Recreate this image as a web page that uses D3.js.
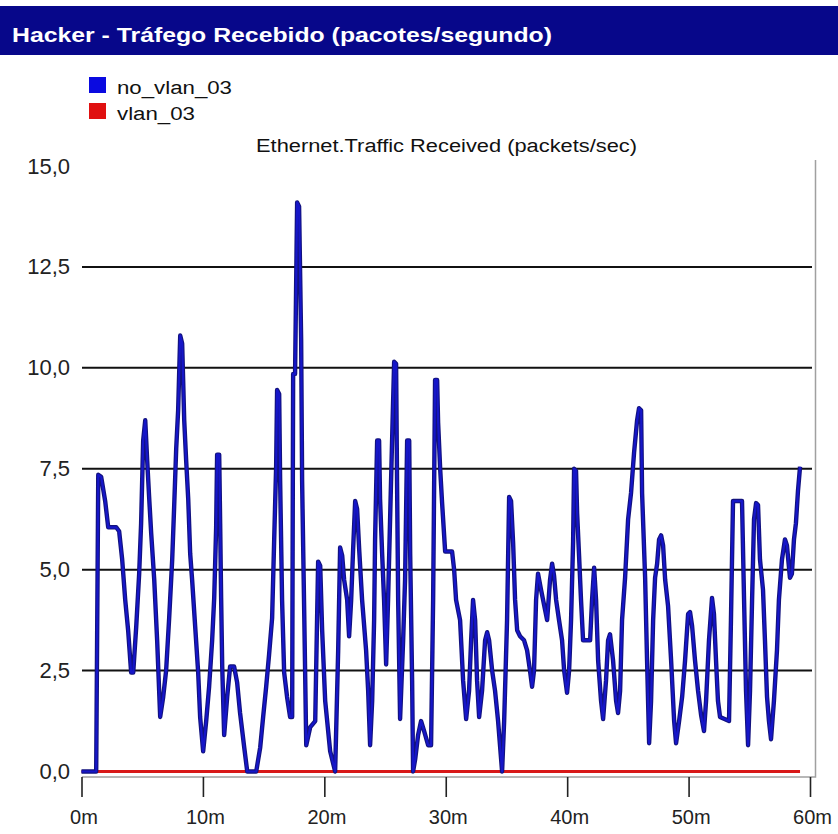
<!DOCTYPE html>
<html>
<head>
<meta charset="utf-8">
<script src="https://cdn.jsdelivr.net/npm/d3@7"></script>
<style>
  html, body { margin: 0; padding: 0; background: #ffffff; }
  svg { display: block; }
</style>
</head>
<body>
<svg id="chart" width="838" height="834"></svg>
<script>
// Window caption and statistic name
const windowTitle = "Hacker - Tráfego Recebido (pacotes/segundo)";
const chartTitle = "Ethernet.Traffic Received (packets/sec)";

// Legend entries
const seriesNames = ["no_vlan_03", "vlan_03"];
const seriesColors = ["#1616c8", "#d81818"];

// Axis ticks
const yTicks = [0, 2.5, 5, 7.5, 10, 12.5, 15];
const gridValues = [2.5, 5, 7.5, 10, 12.5];
const xTicks = [0, 10, 20, 30, 40, 50, 60];

// no_vlan_03: sample times (minutes) and received packets/sec
const minutes = [
  0, 1.21, 1.38, 1.62, 1.95, 2.20, 2.86, 3.10, 3.35, 3.60,
  3.84, 4.09, 4.26, 4.51, 4.75, 4.91, 5.08, 5.25, 5.41, 5.57,
  5.74, 5.99, 6.23, 6.48, 6.73, 6.97, 7.22, 7.47, 7.63, 7.80,
  7.96, 8.13, 8.29, 8.46, 8.62, 8.79, 8.95, 9.11, 9.36, 9.61,
  9.77, 10.02, 10.27, 10.51, 10.76, 10.93, 11.09, 11.17, 11.34, 11.42,
  11.50, 11.59, 11.75, 12.00, 12.24, 12.57, 12.82, 13.06, 13.40, 13.65,
  14.39, 14.72, 14.96, 15.21, 15.45, 15.70, 15.87, 16.03, 16.11, 16.28,
  16.36, 16.52, 16.69, 16.93, 17.18, 17.35, 17.43, 17.59, 17.76, 17.92,
  18.09, 18.17, 18.34, 18.51, 18.84, 19.25, 19.41, 19.49, 19.66, 19.82,
  20.07, 20.48, 20.89, 21.14, 21.30, 21.47, 21.63, 21.88, 22.04, 22.21,
  22.37, 22.54, 22.70, 22.87, 23.11, 23.44, 23.61, 23.77, 23.94, 24.10,
  24.18, 24.35, 24.51, 24.59, 24.76, 24.92, 25.09, 25.25, 25.42, 25.58,
  25.75, 25.91, 25.99, 26.08, 26.24, 26.49, 26.65, 26.82, 26.99, 27.07,
  27.23, 27.31, 27.48, 27.72, 27.97, 28.22, 28.55, 28.79, 28.96, 29.12,
  29.29, 29.37, 29.54, 29.70, 29.95, 30.52, 30.69, 30.85, 31.18, 31.43,
  31.68, 31.92, 32.09, 32.25, 32.42, 32.58, 32.75, 32.99, 33.24, 33.41,
  33.57, 33.82, 34.06, 34.31, 34.64, 34.81, 35.05, 35.22, 35.38, 35.55,
  35.71, 35.88, 36.12, 36.45, 36.70, 36.94, 37.11, 37.27, 37.44, 37.60,
  37.85, 38.35, 38.59, 38.76, 38.92, 39.09, 39.33, 39.58, 39.75, 39.99,
  40.16, 40.32, 40.49, 40.57, 40.73, 40.82, 40.98, 41.14, 41.31, 41.89,
  42.05, 42.22, 42.38, 42.55, 42.79, 42.96, 43.20, 43.37, 43.53, 43.78,
  44.03, 44.19, 44.36, 44.52, 44.77, 45.02, 45.26, 45.51, 45.76, 45.92,
  46.09, 46.17, 46.42, 46.58, 46.75, 46.91, 47.08, 47.24, 47.41, 47.57,
  47.74, 47.90, 48.07, 48.31, 48.56, 48.81, 48.97, 49.22, 49.47, 49.71,
  49.96, 50.12, 50.29, 50.53, 50.78, 51.03, 51.27, 51.44, 51.68, 51.93,
  52.09, 52.26, 52.42, 52.59, 53.33, 53.49, 53.66, 54.40, 54.57, 54.73,
  54.90, 55.06, 55.23, 55.39, 55.56, 55.72, 55.88, 56.13, 56.29, 56.46,
  56.62, 56.79, 57.03, 57.28, 57.44, 57.69, 57.94, 58.10, 58.35, 58.51,
  58.68, 58.84, 59.01, 59.18
];
const noVlan03 = [
  0, 0, 7.35, 7.3, 6.7, 6.05, 6.05, 5.95, 5.25, 4.25,
  3.5, 2.45, 2.45, 3.6, 4.9, 6.15, 8.2, 8.7, 7.7, 6.8,
  5.9, 4.75, 3.25, 1.35, 1.85, 2.5, 3.8, 5.25, 6.55, 8.0,
  8.95, 10.8, 10.6, 8.7, 7.7, 6.75, 5.4, 4.75, 3.6, 2.45,
  1.35, 0.5, 1.25, 2.1, 3.25, 4.3, 6.05, 7.85, 7.85, 6.15,
  4.3, 2.6, 0.9, 1.85, 2.6, 2.6, 2.2, 1.45, 0.6, 0,
  0, 0.6, 1.35, 2.1, 2.9, 3.8, 5.75, 7.55, 9.45, 9.35,
  7.2, 4.25, 2.45, 1.85, 1.35, 1.35, 9.85, 9.85, 14.1, 14.0,
  10.7, 7.2, 4.0, 0.65, 1.1, 1.25, 3.9, 5.2, 5.1, 3.5,
  1.75, 0.5, 0, 3.0, 5.55, 5.35, 4.75, 4.25, 3.35, 4.25,
  5.5, 6.7, 6.5, 5.5, 4.25, 3.0, 2.0, 0.65, 1.75, 3.75,
  5.75, 8.2, 8.2, 6.75, 5.4, 4.25, 2.65, 4.25, 6.3, 8.2,
  10.15, 10.1, 7.15, 4.25, 1.3, 3.25, 4.75, 8.2, 8.2, 5.4,
  2.25, 0, 0.3, 0.9, 1.25, 1.0, 0.65, 0.65, 4.25, 9.7,
  9.7, 8.65, 7.5, 6.65, 5.45, 5.45, 5.0, 4.25, 3.75, 2.25,
  1.3, 2.0, 3.25, 4.25, 3.75, 2.25, 1.35, 2.0, 3.25, 3.45,
  3.25, 2.5, 2.0, 1.25, 0, 1.25, 3.75, 6.8, 6.7, 5.65,
  4.25, 3.5, 3.35, 3.25, 3.0, 2.5, 2.1, 2.5, 4.25, 4.9,
  4.5, 3.75, 4.75, 5.15, 4.85, 4.25, 3.75, 3.25, 2.5, 1.95,
  2.5, 3.75, 5.7, 7.5, 7.45, 6.4, 5.35, 4.25, 3.25, 3.25,
  4.25, 5.05, 4.25, 2.75, 1.75, 1.3, 2.25, 3.25, 3.4, 2.75,
  1.75, 1.45, 2.0, 3.75, 4.8, 6.25, 6.9, 7.9, 8.7, 9.0,
  8.95, 6.9, 4.8, 2.75, 0.7, 1.75, 3.75, 4.8, 5.15, 5.75,
  5.85, 5.6, 4.75, 4.1, 2.75, 1.25, 0.7, 1.25, 1.85, 2.75,
  3.9, 3.95, 3.6, 2.75, 2.0, 1.4, 1.0, 1.75, 3.25, 4.3,
  3.9, 2.75, 1.75, 1.35, 1.25, 3.75, 6.7, 6.7, 4.25, 2.0,
  0.65, 2.0, 4.25, 6.25, 6.65, 6.6, 5.25, 4.5, 3.25, 1.85,
  1.25, 0.8, 1.75, 3.0, 4.25, 5.25, 5.75, 5.6, 4.8, 4.9,
  5.75, 6.15, 6.95, 7.55
];

// vlan_03: flat at zero over the whole run
const vlanMinutes = [0, 59.18];
const vlan03 = [0, 0];

const svg = d3.select("#chart");
const W = 838, H = 834;
const font = "'Liberation Sans', Arial, sans-serif";

svg.append("rect").attr("width", W).attr("height", H).attr("fill", "#ffffff");

// Caption bar
svg.append("rect")
  .attr("x", 0).attr("y", 6).attr("width", W).attr("height", 49)
  .attr("fill", "#07078a");
svg.append("text")
  .attr("x", 12).attr("y", 42)
  .attr("font-family", font).attr("font-weight", "bold").attr("font-size", 21)
  .attr("fill", "#ffffff")
  .attr("textLength", 540).attr("lengthAdjust", "spacingAndGlyphs")
  .text(windowTitle);

// Legend
const legendLengths = [115, 78];
const legend = svg.append("g");
seriesNames.forEach((name, i) => {
  legend.append("rect")
    .attr("x", 89).attr("y", 77 + i * 26).attr("width", 17).attr("height", 16)
    .attr("fill", seriesColors[i] === "#1616c8" ? "#0a0ae0" : "#e01010");
  legend.append("text")
    .attr("x", 117).attr("y", 94 + i * 26)
    .attr("font-family", font).attr("font-size", 18).attr("fill", "#111")
    .attr("textLength", legendLengths[i]).attr("lengthAdjust", "spacingAndGlyphs")
    .text(name);
});

// Statistic title
svg.append("text")
  .attr("x", 256).attr("y", 152)
  .attr("font-family", font).attr("font-size", 18).attr("fill", "#111")
  .attr("textLength", 381).attr("lengthAdjust", "spacingAndGlyphs")
  .text(chartTitle);

// Scales
const x = d3.scaleLinear().domain([0, 60]).range([81.5, 810]);
const y = d3.scaleLinear().domain([0, 15]).range([771.5, 166]);

const locale = d3.formatLocale({ decimal: ",", thousands: ".", grouping: [3], currency: ["", ""] });
const fmtY = locale.format(".1f");

// Horizontal grid lines
svg.append("g")
  .selectAll("line")
  .data(gridValues)
  .join("line")
  .attr("x1", 82).attr("x2", 812)
  .attr("y1", d => y(d)).attr("y2", d => y(d))
  .attr("stroke", "#111").attr("stroke-width", 2);

// Plot frame (right and bottom edges)
svg.append("path")
  .attr("d", `M815.5,160 V777 H82`)
  .attr("fill", "none").attr("stroke", "#a0a0a0").attr("stroke-width", 1.5);

// Y axis labels
const yAxis = d3.axisLeft(y).tickValues(yTicks).tickFormat(fmtY).tickSize(0).tickPadding(12);
const gy = svg.append("g").attr("transform", "translate(82,0)").call(yAxis);
gy.select(".domain").remove();
gy.selectAll("text")
  .attr("font-family", font).attr("font-size", 22).attr("fill", "#222");

// X axis
const xAxis = d3.axisBottom(x).tickValues(xTicks).tickFormat(d => d + "m").tickSize(20).tickPadding(13);
const gx = svg.append("g").attr("transform", "translate(0,777)").call(xAxis);
gx.select(".domain").remove();
gx.selectAll("line").attr("stroke", "#222").attr("stroke-width", 1.6);
gx.selectAll("text")
  .attr("font-family", font).attr("font-size", 20).attr("fill", "#222")
  .attr("dx", 2);

// Series lines
const line = d3.line().x(d => x(d[0])).y(d => y(d[1]));
const vlanData = d3.zip(vlanMinutes, vlan03);
const noVlanData = d3.zip(minutes, noVlan03);

svg.append("path")
  .datum(vlanData)
  .attr("d", line)
  .attr("fill", "none").attr("stroke", seriesColors[1]).attr("stroke-width", 3.2);

svg.append("path")
  .datum(noVlanData)
  .attr("d", line)
  .attr("fill", "none").attr("stroke", "#12127e").attr("stroke-width", 4.4)
  .attr("stroke-linejoin", "round");
svg.append("path")
  .datum(noVlanData)
  .attr("d", line)
  .attr("fill", "none").attr("stroke", seriesColors[0]).attr("stroke-width", 2.2)
  .attr("stroke-linejoin", "round");
</script>
</body>
</html>
